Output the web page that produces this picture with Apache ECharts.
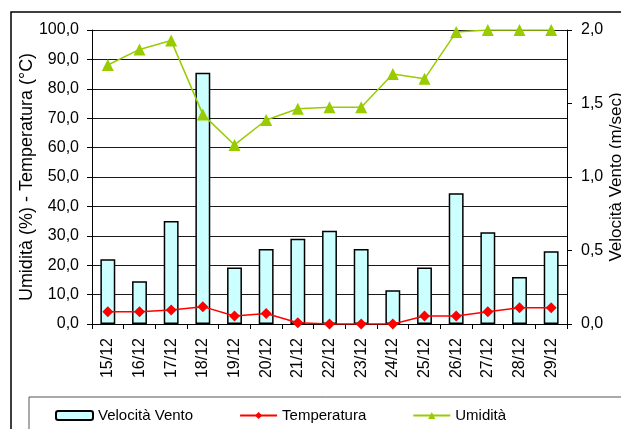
<!DOCTYPE html>
<html>
<head>
<meta charset="utf-8">
<style>
	html, body { margin: 0; padding: 0; background: #fff; }
	#chart { width: 621px; height: 429px; }
</style>
<script src="https://cdn.jsdelivr.net/npm/echarts@6/dist/echarts.min.js"></script>
</head>
<body>
<div id="chart"></div>
<script>
	var categories = ['15/12', '16/12', '17/12', '18/12', '19/12', '20/12', '21/12', '22/12',
		'23/12', '24/12', '25/12', '26/12', '27/12', '28/12', '29/12'];
	var ventoData = [0.44, 0.29, 0.70, 1.71, 0.385, 0.51, 0.58, 0.635, 0.51, 0.23, 0.385, 0.89, 0.625, 0.32, 0.495];
	var temperaturaData = [4.2, 4.2, 4.8, 5.9, 2.7, 3.6, 0.4, 0, 0, 0, 2.7, 2.7, 4.2, 5.5, 5.5];
	var umiditaData = [88.1, 93.4, 96.4, 71.3, 60.9, 69.4, 73.2, 73.7, 73.7, 85.0, 83.4, 99.3, 100, 100, 100];

	var font = 'Liberation Sans, Arial, sans-serif';
	function comma(v) {
		return v.toFixed(1).replace('.', ',');
	}

	var chart = echarts.init(document.getElementById('chart'));
	chart.setOption({
		animation: false,
		textStyle: { fontFamily: font },
		graphic: [
			{
				type: 'rect',
				shape: { x: 11, y: 12, width: 640, height: 440 },
				style: { fill: 'none', stroke: '#000', lineWidth: 1.5 },
				silent: true
			},
			{
				type: 'rect',
				shape: { x: 29, y: 397, width: 620, height: 60 },
				style: { fill: 'none', stroke: '#555', lineWidth: 1 },
				silent: true
			}
		],
		grid: { left: 92, right: 54, top: 30, bottom: 105, outerBoundsMode: 'none', containLabel: false },
		legend: {
			left: 50,
			top: 403,
			itemWidth: 37,
			itemHeight: 9,
			itemGap: 46,
			textStyle: { fontSize: 15, color: '#000', fontFamily: font },
			data: ['Velocità Vento', 'Temperatura', 'Umidità']
		},
		xAxis: {
			type: 'category',
			data: categories,
			boundaryGap: true,
			axisLine: { lineStyle: { color: '#000', width: 1 } },
			axisTick: { show: true, length: 5, lineStyle: { color: '#000' } },
			axisLabel: { rotate: 90, margin: 14, fontSize: 16, color: '#000', fontFamily: font }
		},
		yAxis: [
			{
				type: 'value',
				min: 0,
				max: 100,
				interval: 10,
				name: 'Umidità (%) - Temperatura (°C)',
				nameLocation: 'middle',
				nameRotate: 90,
				nameGap: 56,
				nameMoveOverlap: false,
				nameTextStyle: { fontSize: 18, color: '#000', fontFamily: font },
				axisLine: { show: true, lineStyle: { color: '#000' } },
				axisTick: { show: true, length: 5, lineStyle: { color: '#000' } },
				axisLabel: { formatter: comma, fontSize: 16, color: '#000', margin: 13, fontFamily: font },
				splitLine: { show: true, lineStyle: { color: '#1a1a1a', width: 1 } }
			},
			{
				type: 'value',
				min: 0,
				max: 2,
				interval: 0.5,
				name: 'Velocità Vento (m/sec)',
				nameLocation: 'middle',
				nameRotate: 90,
				nameGap: 41,
				nameMoveOverlap: false,
				nameTextStyle: { fontSize: 17, color: '#000', fontFamily: font },
				axisLine: { show: true, lineStyle: { color: '#000' } },
				axisTick: { show: true, length: 5, lineStyle: { color: '#000' } },
				axisLabel: { formatter: comma, fontSize: 16, color: '#000', margin: 14, fontFamily: font },
				splitLine: { show: false }
			}
		],
		series: [
			{
				name: 'Velocità Vento',
				type: 'bar',
				yAxisIndex: 1,
				barWidth: '47%',
				itemStyle: { color: '#CCFFFF', borderColor: '#000', borderWidth: 1.5 },
				data: ventoData
			},
			{
				name: 'Temperatura',
				type: 'line',
				yAxisIndex: 0,
				symbol: 'diamond',
				symbolSize: 11,
				itemStyle: { color: '#FF0000' },
				lineStyle: { color: '#FF0000', width: 1.5 },
				data: temperaturaData
			},
			{
				name: 'Umidità',
				type: 'line',
				yAxisIndex: 0,
				symbol: 'triangle',
				symbolSize: 12,
				itemStyle: { color: '#99CC00' },
				lineStyle: { color: '#99CC00', width: 1.5 },
				data: umiditaData
			}
		]
	});
</script>
</body>
</html>
